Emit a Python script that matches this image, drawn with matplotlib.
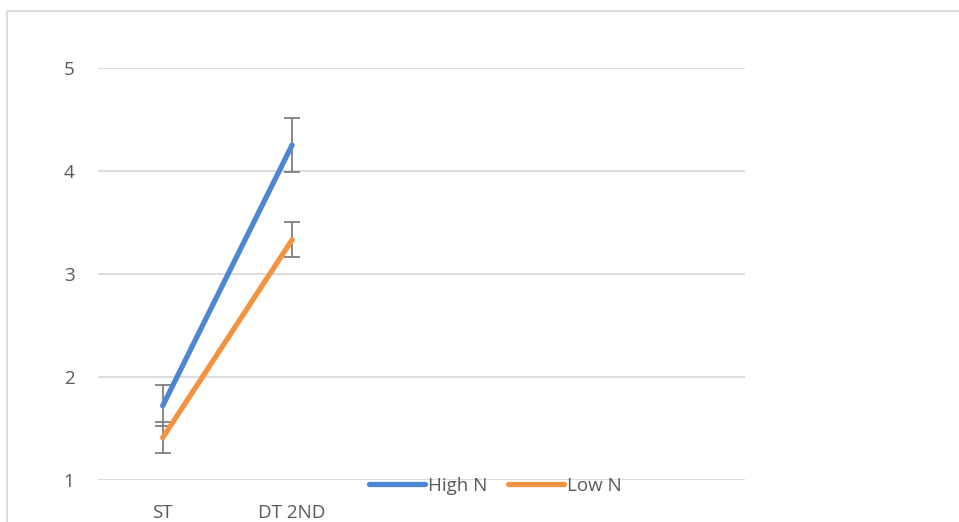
import matplotlib.pyplot as plt
from matplotlib.patches import Rectangle

# values
categories = ["ST", "DT 2ND", "", "", ""]
high_n = [1.72, 4.25]
high_n_err = [0.20, 0.26]
low_n = [1.41, 3.33]
low_n_err = [0.15, 0.17]

plt.rcParams["font.family"] = ["Open Sans", "DejaVu Sans"]

fig = plt.figure(figsize=(9.59, 5.22), dpi=100)
ax = fig.add_axes([98 / 959, 1 - 480 / 522, 647 / 959, 412.3 / 522])

x = list(range(len(high_n)))
ax.errorbar(x, high_n, yerr=high_n_err, color="#4F86D4", lw=3.8,
            ecolor="#7F7F7F", elinewidth=1.3, capsize=6, capthick=1.3,
            solid_capstyle="round", label="High N", zorder=3)
ax.errorbar(x, low_n, yerr=low_n_err, color="#F39340", lw=3.8,
            ecolor="#7F7F7F", elinewidth=1.3, capsize=6, capthick=1.3,
            solid_capstyle="round", label="Low N", zorder=3)

ax.set_xlim(-0.5, len(categories) - 0.5)
ax.set_ylim(1, 5)
ax.set_xticks(range(len(categories)))
ax.set_xticklabels(categories)
ax.set_yticks([1, 2, 3, 4, 5])
ax.tick_params(length=0, labelsize=13.5, labelcolor="#595959")
ax.tick_params(axis="x", pad=17)
ax.tick_params(axis="y", pad=17)
ax.grid(axis="y", color="#D9D9D9", lw=1.3)
ax.set_axisbelow(True)
for s in ax.spines.values():
    s.set_visible(False)

handles, labels = ax.get_legend_handles_labels()
handles = [h[0] for h in handles]
leg = fig.legend(handles, labels, loc="center", bbox_to_anchor=(495 / 959, 1 - 486 / 522),
                 ncol=2, frameon=False, fontsize=13.5, handlelength=3.0,
                 handletextpad=0.15, columnspacing=1.1, borderaxespad=0)
for t in leg.get_texts():
    t.set_color("#595959")

fig.patches.append(Rectangle((7 / 959, -0.1), 1.2, 1 - 10.5 / 522 + 0.1,
                             transform=fig.transFigure, fill=False,
                             edgecolor="#D9D9D9", lw=1.3))

fig.savefig("out.png", dpi=100)
